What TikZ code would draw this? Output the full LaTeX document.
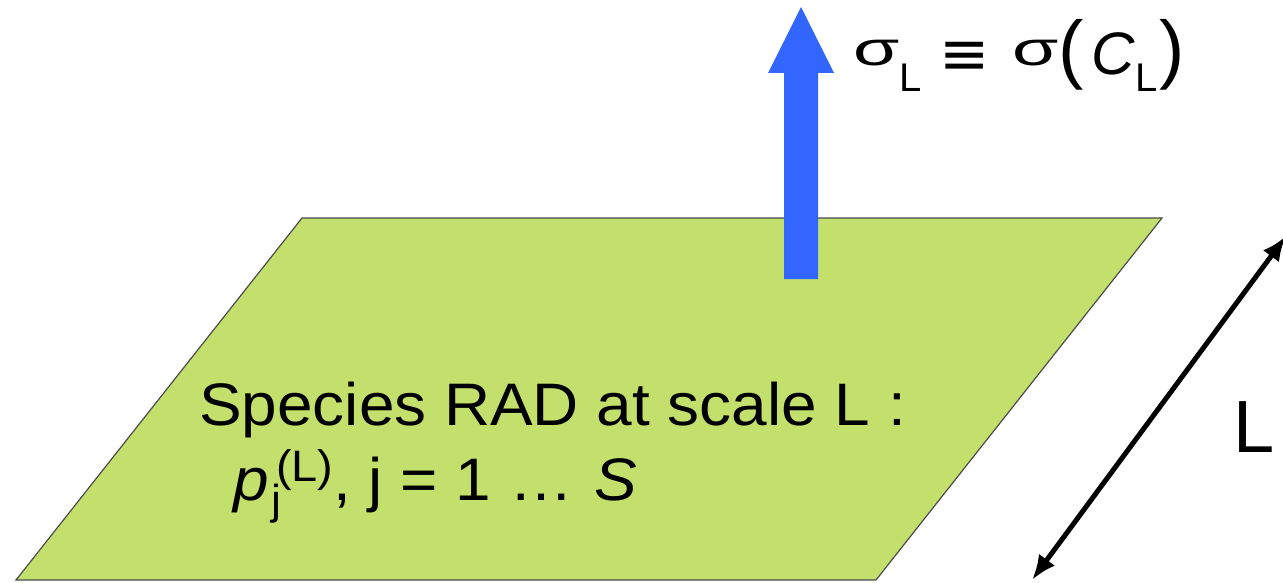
\documentclass[tikz,border=0pt]{standalone}
\usepackage{graphicx}
\usepackage{fontspec}
\setmainfont{Liberation Sans}
\newfontfamily\djv{DejaVu Sans}
\usetikzlibrary{arrows.meta}
\definecolor{planegreen}{RGB}{196,224,108}
\definecolor{arrowblue}{RGB}{51,102,255}
\newcommand\mysig{\raisebox{9pt}{\scalebox{1.25}[0.8]{σ}}}
\newcommand\mysubL{\raisebox{-17pt}{\fontsize{40}{40}\selectfont L}}
\newcommand\bigpar[1]{{\fontsize{76}{76}\selectfont #1}}
\newcommand\wide[1]{\scalebox{1.065}[1]{#1}}
\begin{document}
\begin{tikzpicture}[x=1pt,y=-1pt,
  txt/.style={inner sep=0pt, anchor=base west, font=\fontsize{60}{60}\selectfont},
  plane/.style={fill=planegreen, draw=black!70, line width=1.2pt, line join=miter},
  blue arrow/.style={fill=arrowblue, draw=none},
  dim arrow/.style={line width=5pt, {Latex[length=25pt,width=20pt]}-{Latex[length=25pt,width=20pt]}}]
\useasboundingbox (0,0) rectangle (1283,583);
% plane
\coordinate (A) at (302,218);
\coordinate (B) at (1162,218);
\coordinate (C) at (876,580);
\coordinate (D) at (16,580);
\draw[plane] (A) -- (B) -- (C) -- (D) -- cycle;
% upward blue arrow
\fill[blue arrow] (784,279) -- (784,73) -- (768,73) -- (801,7) -- (834,73) -- (818,73) -- (818,279) -- cycle;
% dimension arrow
\coordinate (Lbot) at (1032,580);
\coordinate (Ltop) at (1286,236);
\draw[dim arrow] (Lbot) -- (Ltop);
% texts
\node[txt] (sigma) at (853,75) {\mysig\mysubL\hspace{18pt}{\djv ≡}\hspace{22pt}\mysig\bigpar{(}\hspace{8pt}\textit{C}\mysubL\hspace{2pt}\bigpar{)}};
\node[txt] (line1) at (199,425) {\wide{Species RAD at scale L :}};
\node[txt] (line2) at (233,500) {\wide{\textit{p}\rlap{\hspace{3pt}\raisebox{-14pt}{\fontsize{42}{42}\selectfont j}}\hspace{7pt}\raisebox{19pt}{\fontsize{44}{44}\selectfont (L)}, j = 1 …\hspace{20pt}\textit{S}}};
\node[txt, font=\fontsize{74}{74}\selectfont] (Llabel) at (1233,452) {L};
\end{tikzpicture}
\end{document}
